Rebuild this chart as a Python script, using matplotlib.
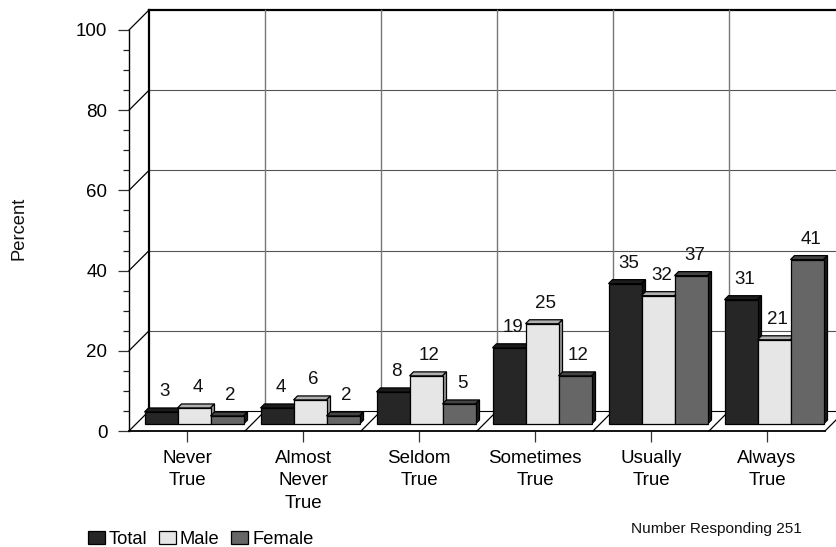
"""Survey chart: percent per answer, Total/Male/Female, drawn as fake-3D bars."""
import matplotlib
matplotlib.use("Agg")
import matplotlib.pyplot as plt
from matplotlib.patches import Polygon

plt.rcParams["font.family"] = ["Liberation Sans", "DejaVu Sans"]

categories = ["Never\nTrue", "Almost\nNever\nTrue", "Seldom\nTrue",
              "Sometimes\nTrue", "Usually\nTrue", "Always\nTrue"]
series = ["Total", "Male", "Female"]
total = [3, 4, 8, 19, 35, 31]
male = [4, 6, 12, 25, 32, 21]
female = [2, 2, 5, 12, 37, 41]

W, H = 836, 547
PX_X = 1 / 116          # one pixel in x data units
PX_Y = 100 / 401        # one pixel in y data units
WALL_X, WALL_Y = 20 * PX_X, 20 * PX_Y
BAR_X, BAR_Y = 7 * PX_X, 7 * PX_Y     # how far bars stand back from the floor edge
DEPTH_X, DEPTH_Y = 4 * PX_X, 4 * PX_Y
BAR_W = 33 * PX_X
FS = 13.5

faces = {"Total": ("#262626", "#1c1c1c", "#111111"),
         "Male": ("#e6e6e6", "#b0b0b0", "#999999"),
         "Female": ("#666666", "#444444", "#1a1a1a")}

fig = plt.figure(figsize=(W / 100, H / 100), dpi=100)
ax = fig.add_axes([129 / W, 1 - 431 / H, 696 / W, 401 / H])
ax.set_xlim(0, 6)
ax.set_ylim(0, 100)
ax.patch.set_visible(False)
for s in ("top", "right"):
    ax.spines[s].set_visible(False)
ax.spines["left"].set_linewidth(1.0)
ax.spines["bottom"].set_linewidth(1.3)

ax.set_yticks(range(0, 101, 20))
ax.set_yticks(range(0, 101, 5), minor=True)
ax.tick_params(axis="y", which="major", length=8, width=0.9, color="#333333", labelsize=FS, pad=7.5)
ax.tick_params(axis="y", which="minor", length=4, width=0.9, color="#222222")
ax.set_xticks([i + 0.5 for i in range(len(categories))])
ax.set_xticklabels(categories, linespacing=1.43)
ax.tick_params(axis="x", length=8, width=0.9, color="#333333", labelsize=FS, pad=5.5)

# back wall, side wall, floor
right = 7.0
for v in range(0, 101, 20):
    top = v == 100
    ax.plot([WALL_X, right], [v + WALL_Y] * 2, color="black" if top or v == 0 else "#555555",
            lw=1.6 if top else 0.8, clip_on=False, zorder=1)
    ax.plot([0, WALL_X], [v, v + WALL_Y], color="black", lw=0.9, clip_on=False, zorder=1)
for i in range(1, 7):
    ax.plot([i + WALL_X] * 2, [WALL_Y, 100 + WALL_Y], color="#777777", lw=1.0, clip_on=False, zorder=1)
    ax.plot([i, i + WALL_X], [0, WALL_Y], color="black", lw=0.9, clip_on=False, zorder=1)
ax.plot([WALL_X] * 2, [WALL_Y, 100 + WALL_Y], color="black", lw=1.6, clip_on=False, zorder=1)

handles = {}
z = 3
for i in range(len(categories)):
    for j, (name, vals) in enumerate(zip(series, (total, male, female))):
        front, top_c, side_c = faces[name]
        x0 = i + 0.5 + BAR_X + (j - 1.5) * BAR_W
        v = vals[i]
        x1 = x0 + BAR_W
        y0, y1 = BAR_Y, BAR_Y + v
        ax.add_patch(Polygon([(x0, y1), (x1, y1), (x1 + DEPTH_X, y1 + DEPTH_Y), (x0 + DEPTH_X, y1 + DEPTH_Y)],
                             fc=top_c, ec="black", lw=0.9, clip_on=False, zorder=z))
        ax.add_patch(Polygon([(x1, y0), (x1, y1), (x1 + DEPTH_X, y1 + DEPTH_Y), (x1 + DEPTH_X, y0 + DEPTH_Y)],
                             fc=side_c, ec="black", lw=0.9, clip_on=False, zorder=z))
        b = ax.bar(x0, v, BAR_W, bottom=y0, align="edge", color=front, edgecolor="black", lw=0.9,
                   clip_on=False, zorder=z + 1)
        handles[name] = b
        ax.text(x0 + BAR_W / 2 + 3.5 * PX_X, y1 + 20 * PX_Y, str(v), ha="center", va="center",
                fontsize=FS, color="#111111", clip_on=False, zorder=20)
        z += 2

fig.text(19 / W, 1 - 228 / H, "Percent", rotation=90, ha="center", va="center", fontsize=13.2, color="#111111")
fig.text(802 / W, 1 - 529 / H, "Number Responding 251", ha="right", va="center", fontsize=11.1, color="#111111")

fig.legend([handles[n] for n in series], series, loc="lower left",
           bbox_to_anchor=(84 / W, 1 - 552 / H), frameon=False, ncol=3, fontsize=13.2,
           handlelength=0.95, handleheight=0.72, handletextpad=0.2, columnspacing=0.62, borderpad=0.2,
           borderaxespad=0)

fig.savefig("out.png", dpi=100)
